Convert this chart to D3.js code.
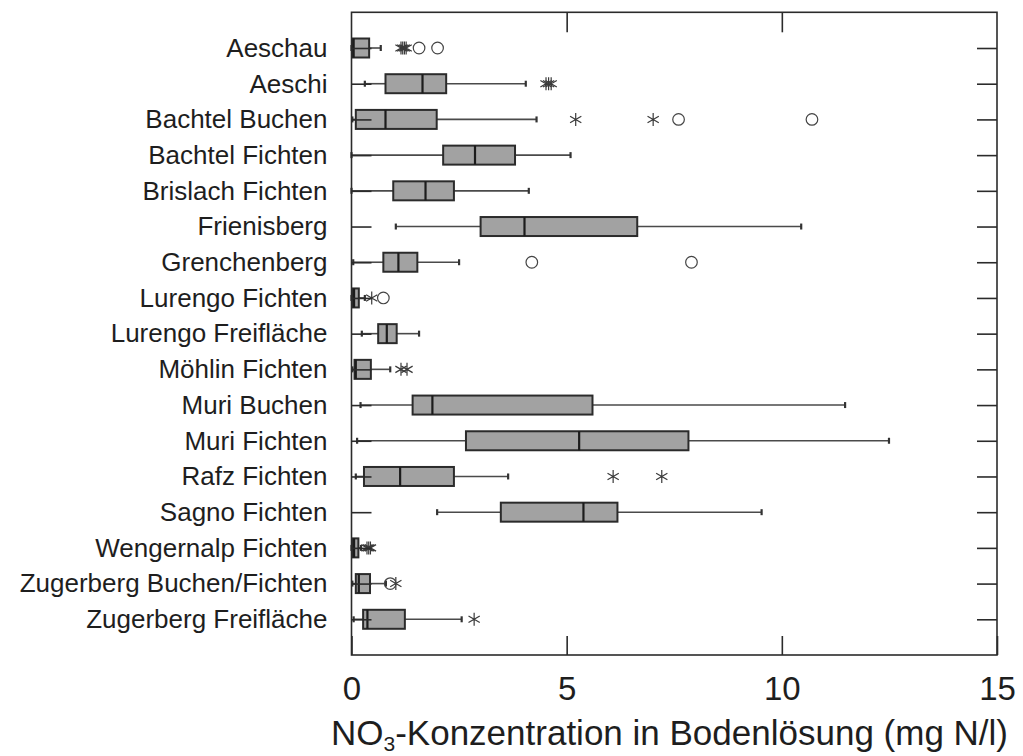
<!DOCTYPE html>
<html>
<head>
<meta charset="utf-8">
<script src="https://cdn.jsdelivr.net/npm/d3@7"></script>
<style>
  html, body { margin: 0; padding: 0; background: #fff; }
  svg { display: block; font-family: "Liberation Sans", Arial, Helvetica, sans-serif; }
</style>
</head>
<body>
<svg id="chart" width="1023" height="756"></svg>
<script>
// Sites (one box per site, top to bottom)
const sites = [
  "Aeschau", "Aeschi", "Bachtel Buchen", "Bachtel Fichten", "Brislach Fichten",
  "Frienisberg", "Grenchenberg", "Lurengo Fichten", "Lurengo Freifläche",
  "Möhlin Fichten", "Muri Buchen", "Muri Fichten", "Rafz Fichten",
  "Sagno Fichten", "Wengernalp Fichten", "Zugerberg Buchen/Fichten",
  "Zugerberg Freifläche"
];

// Box statistics in mg N/l
const whiskerLow  = [0.00, 0.31, 0.02, 0.00, 0.00, 1.03, 0.04, 0.00, 0.24, 0.02, 0.21, 0.13, 0.10, 1.99, 0.00, 0.02, 0.05];
const quartile1   = [0.02, 0.79, 0.10, 2.13, 0.97, 3.00, 0.74, 0.02, 0.62, 0.07, 1.42, 2.66, 0.29, 3.47, 0.02, 0.10, 0.27];
const medians     = [0.05, 1.65, 0.79, 2.87, 1.72, 4.02, 1.09, 0.06, 0.82, 0.10, 1.88, 5.29, 1.13, 5.39, 0.06, 0.17, 0.37];
const quartile3   = [0.41, 2.20, 1.98, 3.80, 2.38, 6.64, 1.53, 0.17, 1.05, 0.45, 5.60, 7.83, 2.38, 6.18, 0.16, 0.43, 1.24];
const whiskerHigh = [0.68, 4.05, 4.30, 5.09, 4.12, 10.45, 2.50, 0.31, 1.57, 0.90, 11.47, 12.49, 3.64, 9.53, 0.22, 0.80, 2.56];

// Outside values (asterisks) and far outside values (circles)
const outsideValues = [
  [1.15, 1.19, 1.23, 1.27], [4.52, 4.58, 4.64], [5.21, 7.01], [], [], [], [], [0.47], [],
  [1.15, 1.29], [], [], [6.08, 7.21], [], [0.36, 0.40, 0.44], [1.03], [2.85]
];
const farOutsideValues = [
  [1.57, 2.00], [], [7.60, 10.70], [], [], [], [4.19, 7.90], [0.74], [],
  [], [], [], [], [], [], [0.90], []
];

// Axis ticks
const xTicks = [0, 5, 10, 15];
const xInnerTicks = [5, 10];

const rows = sites.map((name, i) => ({
  name,
  lo: whiskerLow[i], q1: quartile1[i], med: medians[i], q3: quartile3[i], hi: whiskerHigh[i],
  stars: outsideValues[i], circles: farOutsideValues[i]
}));

const svg = d3.select("#chart");
const plotLeft = 351.5, plotRight = 997, plotTop = 12.3, plotBottom = 655;

const x = d3.scaleLinear().domain([0, 15]).range([plotLeft, plotRight]);
const y = d3.scalePoint().domain(sites).range([plotTop, plotBottom]).padding(1);

const boxH = 19;
const ink = "#2b2b2b";

const g = svg.append("g");

// Whiskers with end caps
const rowG = g.selectAll("g.row").data(rows).join("g")
  .attr("class", "row")
  .attr("transform", d => `translate(0,${y(d.name)})`);

rowG.append("line")
  .attr("x1", d => x(d.lo)).attr("x2", d => x(d.q1))
  .attr("stroke", "#4a4a4a").attr("stroke-width", 1.6);
rowG.append("line")
  .attr("x1", d => x(d.q3)).attr("x2", d => x(d.hi))
  .attr("stroke", "#4a4a4a").attr("stroke-width", 1.6);
rowG.selectAll("line.cap").data(d => [d.lo, d.hi]).join("line")
  .attr("class", "cap")
  .attr("x1", v => x(v)).attr("x2", v => x(v))
  .attr("y1", -3).attr("y2", 3)
  .attr("stroke", "#333").attr("stroke-width", 2.2);

// Boxes and medians
rowG.append("rect")
  .attr("x", d => x(d.q1))
  .attr("y", -boxH / 2)
  .attr("width", d => x(d.q3) - x(d.q1))
  .attr("height", boxH)
  .attr("fill", "#a2a2a2")
  .attr("stroke", ink).attr("stroke-width", 2);
rowG.append("line")
  .attr("x1", d => x(d.med)).attr("x2", d => x(d.med))
  .attr("y1", -boxH / 2).attr("y2", boxH / 2)
  .attr("stroke", "#1c1c1c").attr("stroke-width", 2.2);

// Asterisks for outside values
const starPath = (() => {
  const r = 6.5;
  const a = Math.PI / 6;
  const dx = r * Math.cos(a), dy = r * Math.sin(a);
  return `M0,${-r}L0,${r}M${-dx},${-dy}L${dx},${dy}M${-dx},${dy}L${dx},${-dy}`;
})();
rowG.selectAll("path.star").data(d => d.stars).join("path")
  .attr("class", "star")
  .attr("d", starPath)
  .attr("transform", v => `translate(${x(v)},0)`)
  .attr("fill", "none").attr("stroke", "#3a3a3a").attr("stroke-width", 1.2);

// Circles for far outside values
rowG.selectAll("circle.far").data(d => d.circles).join("circle")
  .attr("class", "far")
  .attr("cx", v => x(v)).attr("cy", 0).attr("r", 5.8)
  .attr("fill", "none").attr("stroke", "#444").attr("stroke-width", 1.2);

// Frame
svg.append("rect")
  .attr("x", plotLeft).attr("y", plotTop)
  .attr("width", plotRight - plotLeft).attr("height", plotBottom - plotTop)
  .attr("fill", "none").attr("stroke", ink).attr("stroke-width", 1.6);

// Axes: inward ticks on all four sides
const styleAxis = sel => {
  sel.select(".domain").remove();
  sel.selectAll(".tick line").attr("stroke", ink).attr("stroke-width", 1.6);
  sel.selectAll(".tick text").attr("fill", "#1e1e1e");
};

svg.append("g")
  .attr("transform", `translate(0,${plotBottom})`)
  .call(d3.axisBottom(x).tickValues(xTicks).tickSizeInner(-19).tickSizeOuter(0).tickPadding(21.5).tickFormat(d3.format("d")))
  .call(styleAxis)
  .call(s => s.selectAll(".tick text").attr("font-size", 33));

svg.append("g")
  .attr("transform", `translate(0,${plotTop})`)
  .call(d3.axisTop(x).tickValues(xInnerTicks).tickSizeInner(-20).tickSizeOuter(0).tickFormat(""))
  .call(styleAxis);

svg.append("g")
  .attr("transform", `translate(${plotLeft},0)`)
  .call(d3.axisLeft(y).tickSizeInner(-20).tickSizeOuter(0).tickPadding(24))
  .call(styleAxis)
  .call(s => s.selectAll(".tick text").attr("font-size", 26));

svg.append("g")
  .attr("transform", `translate(${plotRight},0)`)
  .call(d3.axisRight(y).tickSizeInner(-20).tickSizeOuter(0).tickFormat(""))
  .call(styleAxis);

// Axis title with subscript
const title = svg.append("text")
  .attr("x", 1008).attr("y", 745)
  .attr("text-anchor", "end")
  .attr("font-size", 35)
  .attr("fill", "#1e1e1e");
title.append("tspan").text("NO");
title.append("tspan").attr("font-size", 21).attr("dy", 6).text("3");
title.append("tspan").attr("dy", -6).text("-Konzentration in Bodenlösung (mg N/l)");
</script>
</body>
</html>
